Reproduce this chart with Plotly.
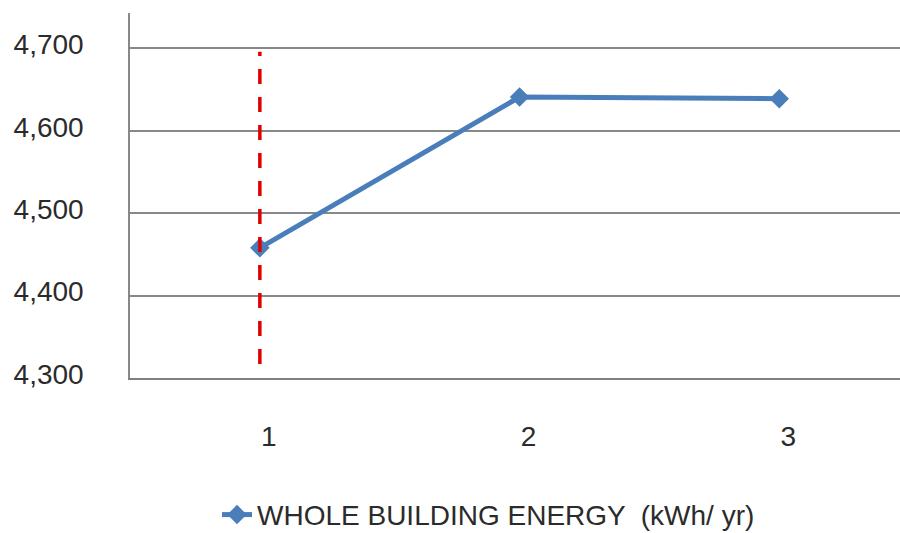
import plotly.graph_objects as go

# Annual whole-building energy for the three cases
cases = [1, 2, 3]
energy_kwh = [4458, 4641, 4639]
series_name = "WHOLE BUILDING ENERGY  (kWh/ yr)"

# Reference marker on case 1 (vertical dashed guide)
guide_case = 1
guide_low = 4317
guide_high = 4696

y_ticks = [4300, 4400, 4500, 4600, 4700]
y_tick_text = ["4,300", "4,400", "4,500", "4,600", "4,700"]
x_tick_text = ["1", "2", "3"]

FONT = "Liberation Sans, Arial, sans-serif"
TEXT_COLOR = "#2b2b2b"
BLUE = "#4A7EBB"

fig = go.Figure()
fig.add_trace(go.Scatter(
    x=cases, y=energy_kwh, name=series_name, mode="lines+markers",
    line=dict(color=BLUE, width=5),
    marker=dict(symbol="diamond", size=15, color=BLUE),
))

fig.add_shape(type="line", xref="x", yref="y",
              x0=guide_case, x1=guide_case, y0=guide_low, y1=guide_high,
              line=dict(color="#E00000", width=3.5, dash="15px,13px"))

fig.update_layout(
    width=900, height=533,
    margin=dict(l=130, r=0, t=13, b=155, autoexpand=False),
    paper_bgcolor="white", plot_bgcolor="white",
    font=dict(family=FONT, size=28, color=TEXT_COLOR),
    showlegend=True,
    legend=dict(x=0.113, y=-0.375, xanchor="left", yanchor="middle",
                orientation="h", font=dict(size=28, color=TEXT_COLOR),
                bgcolor="rgba(0,0,0,0)"),
    xaxis=dict(
        range=[0.5, 3.465], tickmode="array", tickvals=cases, ticktext=x_tick_text,
        showgrid=False, zeroline=False, showline=True, linecolor="#808080", linewidth=2,
        ticks="", ticklabelstandoff=32, ticklabelshift=9,
        tickfont=dict(size=28, color=TEXT_COLOR),
    ),
    yaxis=dict(
        range=[4300, 4743], tickmode="array", tickvals=y_ticks, ticktext=y_tick_text,
        showgrid=True, gridcolor="#888888", gridwidth=1.5, zeroline=False,
        showline=True, linecolor="#888888", linewidth=1.5,
        ticks="", ticklabelstandoff=39, ticklabelshift=-4,
        tickfont=dict(size=28, color=TEXT_COLOR),
    ),
)

fig.write_html("out.html")
